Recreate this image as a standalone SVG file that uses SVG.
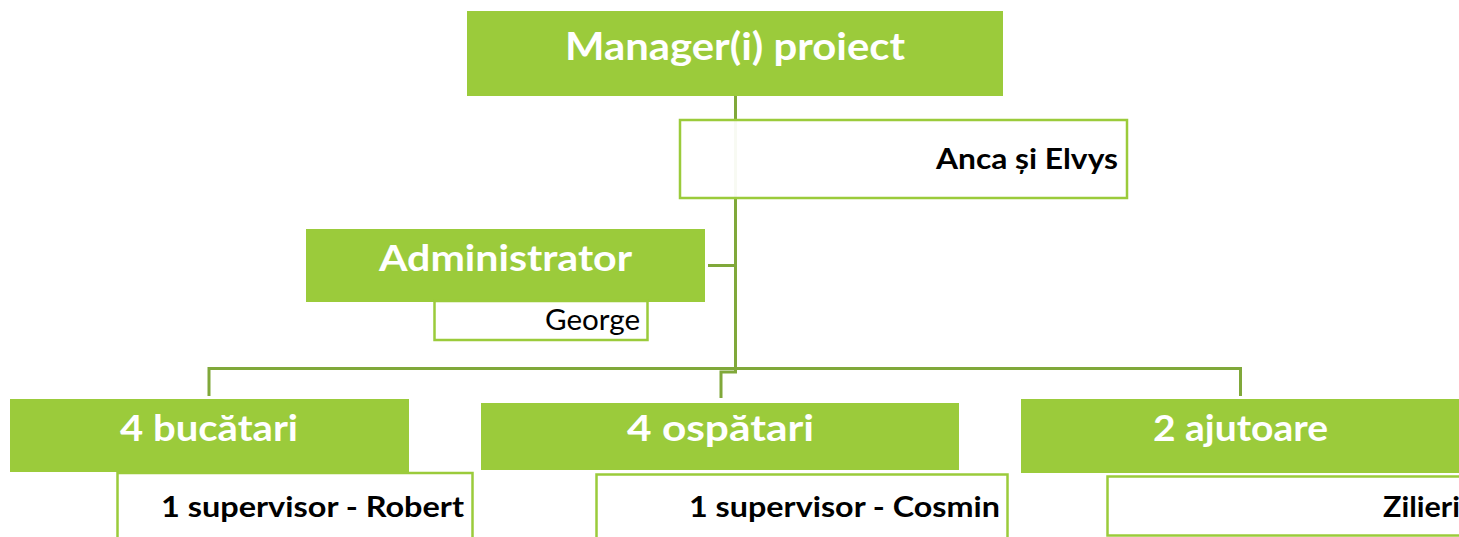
<svg xmlns="http://www.w3.org/2000/svg" width="1459" height="537" viewBox="0 0 1459 537">
<style>
.g{fill:#9bcb3b}
.w{fill:#ffffff;fill-opacity:0.94;stroke:#9bcb3b;stroke-width:2.5}
.c{fill:none;stroke:#80a83a;stroke-width:3}
.h{font-family:Lato,"Open Sans",sans-serif;font-weight:bold;fill:#ffffff}
.t{font-family:Lato,"Open Sans",sans-serif;font-weight:bold;fill:#000000}
.r{font-family:Lato,"Open Sans",sans-serif;fill:#000000}
</style>
<g id="connectors">
<path class="c" d="M735.5 96 V368.5 M708 265.5 H735.5 M209 396 V368.5 H1240.5 V396 M735.5 368.5 V372 H721 V398"/>
</g>
<g id="manager">
<rect class="g" x="467" y="11" width="536" height="85"/>
<text class="h" x="565" y="60" font-size="38" textLength="340" lengthAdjust="spacingAndGlyphs">Manager(i) proiect</text>
</g>
<g id="anca">
<rect class="w" x="680" y="120" width="447" height="78"/>
<text class="t" x="936" y="169" font-size="28" textLength="182" lengthAdjust="spacingAndGlyphs">Anca și Elvys</text>
</g>
<g id="administrator">
<rect class="g" x="306" y="229" width="399" height="73"/>
<text class="h" x="379" y="271" font-size="37" textLength="253" lengthAdjust="spacingAndGlyphs">Administrator</text>
</g>
<g id="george">
<rect class="w" x="434.5" y="301" width="213" height="39"/>
<text class="r" x="545" y="330" font-size="28" textLength="95" lengthAdjust="spacingAndGlyphs">George</text>
</g>
<g id="bucatari">
<rect class="g" x="10" y="399" width="399" height="73"/>
<text class="h" x="120" y="441" font-size="36" textLength="178" lengthAdjust="spacingAndGlyphs">4 bucătari</text>
</g>
<g id="robert">
<rect class="w" x="117.5" y="473" width="355" height="75"/>
<text class="t" x="161" y="517" font-size="28" textLength="303" lengthAdjust="spacingAndGlyphs">1 supervisor - Robert</text>
</g>
<g id="ospatari">
<rect class="g" x="481" y="403" width="478" height="67"/>
<text class="h" x="627" y="441" font-size="36" textLength="187" lengthAdjust="spacingAndGlyphs">4  ospătari</text>
</g>
<g id="cosmin">
<rect class="w" x="596.5" y="474.5" width="411" height="75"/>
<text class="t" x="689" y="517" font-size="28" textLength="311" lengthAdjust="spacingAndGlyphs">1 supervisor - Cosmin</text>
</g>
<g id="ajutoare">
<rect class="g" x="1021" y="399" width="450" height="74"/>
<text class="h" x="1153" y="441" font-size="36" textLength="175" lengthAdjust="spacingAndGlyphs">2  ajutoare</text>
</g>
<g id="zilieri">
<rect class="w" x="1107.5" y="476.5" width="380" height="59"/>
<text class="t" x="1383" y="517" font-size="28" textLength="77" lengthAdjust="spacingAndGlyphs">Zilieri</text>
</g>
</svg>
